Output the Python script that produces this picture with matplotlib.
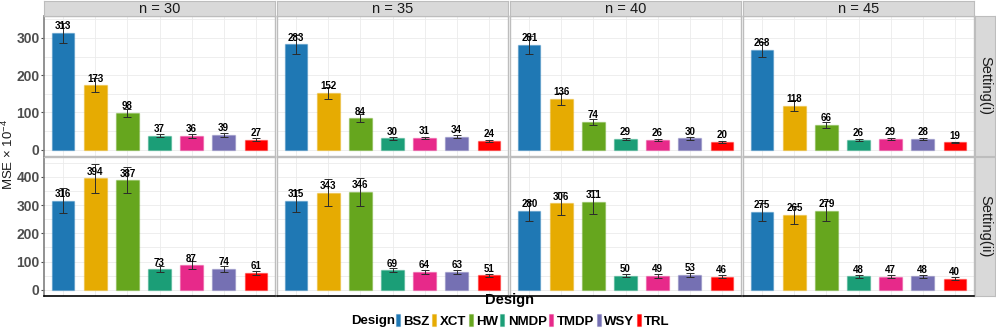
import matplotlib.pyplot as plt
from matplotlib.colors import to_rgba
from matplotlib.patches import Patch

designs = ["BSZ", "XCT", "HW", "NMDP", "TMDP", "WSY", "TRL"]
design_colors = ["#1F78B4", "#E6AB02", "#66A61E", "#1B9E77", "#E7298A", "#7570B3", "#FF0000"]
sample_sizes = [30, 35, 40, 45]
settings = ["Setting(i)", "Setting(ii)"]

# MSE x 10^-4, one list per n
setting1_mse = [
    [313, 173, 98, 37, 36, 39, 27],
    [283, 152, 84, 30, 31, 34, 24],
    [281, 136, 74, 29, 26, 30, 20],
    [268, 118, 66, 26, 29, 28, 19],
]
setting1_err = [
    [27, 19, 11, 4, 5, 5, 4],
    [25, 16, 11, 3, 3, 4, 3],
    [24, 17, 9, 3, 3, 3, 2],
    [20, 15, 9, 3, 3, 3, 2],
]
setting2_mse = [
    [316, 394, 387, 73, 87, 74, 61],
    [315, 343, 346, 69, 64, 63, 51],
    [280, 306, 311, 50, 49, 53, 46],
    [275, 265, 279, 48, 47, 48, 40],
]
setting2_err = [
    [43, 52, 46, 10, 14, 10, 7],
    [40, 48, 48, 7, 7, 8, 5],
    [35, 42, 42, 6, 6, 6, 5],
    [33, 33, 37, 6, 5, 6, 5],
]
setting1_ticks = [0, 100, 200, 300]
setting2_ticks = [0, 100, 200, 300, 400]


def px_rect(x0, y0, x1, y1, width=996, height=332):
    """Convert pixel box (top-left origin) to figure fraction rect"""
    return [x0 / width, 1 - y1 / height, (x1 - x0) / width, (y1 - y0) / height]


def main():
    plt.rcParams["font.family"] = ["Liberation Sans", "DejaVu Sans"]
    plt.rcParams["mathtext.fontset"] = "custom"
    plt.rcParams["mathtext.rm"] = "Liberation Sans"
    plt.rcParams["mathtext.it"] = "Liberation Sans:italic"

    figure = plt.figure(figsize=(9.96, 3.32), dpi=100)

    panel_lefts = [44, 277, 510, 743]
    panel_width = 231
    row_boxes = [(16, 155.5), (157, 296)]
    row_limits = [(-16, 359), (-21.5, 470)]
    row_ticks = [setting1_ticks, setting2_ticks]
    row_values = [setting1_mse, setting2_mse]
    row_errors = [setting1_err, setting2_err]

    positions = list(range(1, len(designs) + 1))
    edge_colors = [to_rgba(c, 0.35) for c in design_colors]

    for row in range(2):
        top, bottom = row_boxes[row]
        for col, n in enumerate(sample_sizes):
            left = panel_lefts[col]
            axis = figure.add_axes(px_rect(left, top, left + panel_width, bottom))
            values = row_values[row][col]
            errors = row_errors[row][col]

            axis.bar(
                positions,
                values,
                width=0.7,
                color=design_colors,
                edgecolor=edge_colors,
                linewidth=1.0,
                zorder=2,
            )
            axis.errorbar(
                positions,
                values,
                yerr=errors,
                fmt="none",
                ecolor="#2B2B2B",
                elinewidth=0.7,
                capsize=3,
                capthick=0.7,
                zorder=3,
            )
            for x, v in zip(positions, values):
                axis.annotate(
                    f"{v}",
                    (x, v),
                    xytext=(0, 1.2),
                    textcoords="offset points",
                    ha="center",
                    va="bottom",
                    fontsize=7,
                    fontweight="bold",
                    color="black",
                    zorder=4,
                )

            axis.set_xlim(0.4, 7.6)
            axis.set_ylim(*row_limits[row])
            axis.set_xticks(positions)
            axis.set_xticklabels([])
            axis.set_yticks(row_ticks[row])
            minor = [t + 50 for t in row_ticks[row]]
            axis.set_yticks(minor, minor=True)
            axis.grid(which="both", color="#EBEBEB", linewidth=0.6, zorder=0)
            axis.set_axisbelow(True)
            axis.tick_params(axis="x", length=0)
            axis.tick_params(axis="y", which="minor", length=0)

            for side in ["top", "right"]:
                axis.spines[side].set_color("#BDBDBD")
                axis.spines[side].set_linewidth(1.0)
            axis.spines["left"].set_color("#BDBDBD" if col > 0 else "#7F7F7F")
            axis.spines["left"].set_linewidth(1.0 if col > 0 else 1.2)
            if row == 1:
                axis.spines["bottom"].set_color("black")
                axis.spines["bottom"].set_linewidth(1.2)
            else:
                axis.spines["bottom"].set_color("#BDBDBD")
                axis.spines["bottom"].set_linewidth(1.0)

            if col == 0:
                axis.tick_params(
                    axis="y",
                    which="major",
                    length=2,
                    color="#4D4D4D",
                    pad=1.2,
                    labelsize=10,
                    labelcolor="#4D4D4D",
                )
                for label in axis.get_yticklabels():
                    label.set_fontweight("bold")
            else:
                axis.tick_params(axis="y", which="major", length=0, labelleft=False)

            if row == 0:
                strip = figure.add_axes(px_rect(left, 1, left + panel_width, 16))
                strip.set_xticks([])
                strip.set_yticks([])
                strip.set_facecolor("#D9D9D9")
                for spine in strip.spines.values():
                    spine.set_color("#BDBDBD")
                strip.text(
                    0.5, 0.45, f"n = {n}",
                    ha="center", va="center",
                    fontsize=10.5, color="#1A1A1A",
                    transform=strip.transAxes,
                )

        side_strip = figure.add_axes(px_rect(975, top, 995, bottom))
        side_strip.set_xticks([])
        side_strip.set_yticks([])
        side_strip.set_facecolor("#D9D9D9")
        for spine in side_strip.spines.values():
            spine.set_color("#BDBDBD")
        side_strip.text(
            0.5, 0.5, settings[row],
            ha="center", va="center", rotation=270,
            fontsize=10.5, color="#1A1A1A",
            transform=side_strip.transAxes,
        )

    figure.text(
        8.5 / 996, 1 - 155 / 332,
        r"MSE $\times$ 10$^{-4}$",
        rotation=90, ha="center", va="center",
        fontsize=9.5, color="#1A1A1A",
    )
    figure.text(
        509 / 996, 1 - 300 / 332, "Design",
        ha="center", va="center",
        fontsize=10.5, fontweight="bold", color="black",
    )

    handles = [
        Patch(facecolor=c, edgecolor=e, linewidth=0.8)
        for c, e in zip(design_colors, edge_colors)
    ]
    figure.legend(
        handles,
        designs,
        loc="center left",
        bbox_to_anchor=(396 / 996, 1 - 321 / 332),
        ncol=len(designs),
        frameon=False,
        handlelength=0.3,
        handleheight=1.0,
        handletextpad=0.25,
        columnspacing=0.2,
        borderpad=0,
        borderaxespad=0,
        prop={"weight": "bold", "size": 9.5},
    )
    figure.text(
        395 / 996, 1 - 321 / 332, "Design",
        ha="right", va="center",
        fontsize=9.5, fontweight="bold", color="black",
    )

    figure.savefig("out.png", dpi=100)
    plt.close(figure)


if __name__ == "__main__":
    main()
